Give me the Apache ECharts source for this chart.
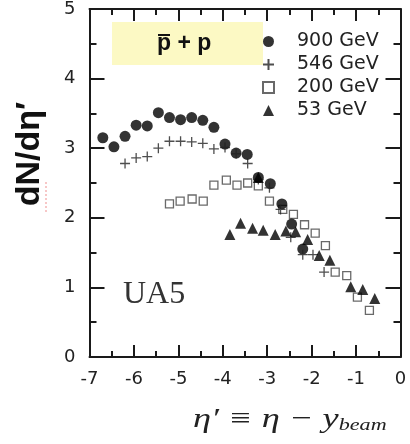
<!DOCTYPE html>
<html><head><meta charset="utf-8">
<script src="https://cdn.jsdelivr.net/npm/echarts@6/dist/echarts.min.js"></script>
<style>html,body{margin:0;padding:0;background:#fff}#c{width:410px;height:444px}</style>
</head><body><div id="c"></div>
<script>
const eta900 = [-6.7,-6.45,-6.2,-5.95,-5.7,-5.45,-5.2,-4.95,-4.7,-4.45,-4.2,-3.95,-3.7,-3.45,-3.2,-2.93,-2.67,-2.45,-2.2];
const dn900  = [3.15,3.02,3.17,3.33,3.32,3.51,3.44,3.41,3.44,3.40,3.30,3.06,2.93,2.91,2.58,2.49,2.20,1.91,1.55];
const eta546 = [-6.2,-5.95,-5.7,-5.45,-5.2,-4.95,-4.7,-4.45,-4.2,-3.95,-3.7,-3.44,-3.2,-2.95,-2.7,-2.47,-2.2,-1.97,-1.72];
const dn546  = [2.78,2.86,2.88,3.00,3.10,3.10,3.09,3.07,2.99,3.01,2.92,2.78,2.55,2.43,2.12,1.72,1.47,1.47,1.22];
const eta200 = [-5.2,-4.96,-4.69,-4.44,-4.2,-3.92,-3.68,-3.44,-3.2,-2.95,-2.65,-2.41,-2.16,-1.92,-1.69,-1.47,-1.21,-0.97,-0.7];
const dn200  = [2.20,2.24,2.27,2.24,2.47,2.54,2.47,2.50,2.46,2.24,2.12,2.05,1.90,1.78,1.60,1.22,1.17,0.86,0.67];
const eta53 = [-3.84,-3.6,-3.33,-3.2,-3.09,-2.82,-2.58,-2.36,-2.09,-1.83,-1.59,-1.12,-0.85,-0.58];
const dn53  = [1.76,1.92,1.85,2.58,1.82,1.76,1.81,1.80,1.69,1.46,1.39,1.01,0.97,0.84];
const legendNames = ['900 GeV','546 GeV','200 GeV','53 GeV'];
const xTicks = [-7,-6,-5,-4,-3,-2,-1,0];
const yTicks = [0,1,2,3,4,5];

const zip = (a,b)=>a.map((v,i)=>[v,b[i]]);
const AX = '#1a1a1a';
function xAx(pos, showLabel){
  return {type:'value', position:pos, min:xTicks[0], max:xTicks[xTicks.length-1], interval:1,
    axisLine:{show:true,onZero:false,lineStyle:{color:AX,width:2}},
    axisTick:{show:true,inside:true,length:12,lineStyle:{color:AX,width:2}},
    minorTick:{show:true,splitNumber:2,length:6,lineStyle:{color:AX,width:2}},
    splitLine:{show:false}, minorSplitLine:{show:false},
    axisLabel:{show:showLabel,fontSize:18,color:'#222',fontFamily:'DejaVu Sans',margin:13,
      formatter:v=>String(v)}};
}
function yAx(pos, showLabel){
  return {type:'value', position:pos, min:yTicks[0], max:yTicks[yTicks.length-1], interval:1,
    axisLine:{show:true,onZero:false,lineStyle:{color:AX,width:2}},
    axisTick:{show:true,inside:true,length:15,lineStyle:{color:AX,width:2}},
    minorTick:{show:true,splitNumber:2,length:7,lineStyle:{color:AX,width:2}},
    splitLine:{show:false}, minorSplitLine:{show:false},
    axisLabel:{show:showLabel,fontSize:18,color:'#222',fontFamily:'DejaVu Sans',margin:14}};
}
const cross = 'path://M0,5L10,5M5,0L5,10';
const chart = echarts.init(document.getElementById('c'), null, {renderer:'canvas'});
chart.setOption({
  animation:false,
  backgroundColor:'#fff',
  grid:{left:89.5,right:9.5,top:7.5,bottom:87},
  xAxis:[xAx('bottom',true), xAx('top',false)],
  yAxis:[yAx('left',true), yAx('right',false)],
  legend:{orient:'vertical',left:257,top:27,itemWidth:11,itemHeight:11,itemGap:4,
    data:legendNames,
    textStyle:{fontSize:19,lineHeight:18,color:'#222',fontFamily:'DejaVu Sans',padding:[0,0,0,18]}},
  series:[
    {name:legendNames[2],type:'scatter',data:zip(eta200,dn200),symbol:'rect',symbolSize:8,z:2,
      itemStyle:{color:'#fff',borderColor:'#444',borderWidth:1.3}},
    {name:legendNames[0],type:'scatter',data:zip(eta900,dn900),symbol:'circle',symbolSize:11,z:3,
      itemStyle:{color:'#000'}},
    {name:legendNames[1],type:'scatter',data:zip(eta546,dn546),symbol:cross,symbolSize:10,z:4,
      itemStyle:{color:'rgba(0,0,0,0)',borderColor:'#222',borderWidth:1.3}},
    {name:legendNames[3],type:'scatter',data:zip(eta53,dn53),symbol:'triangle',symbolSize:11,z:5,
      itemStyle:{color:'#000'}}
  ],
  graphic:[
    {type:'rect',shape:{x:112,y:22,width:151,height:43},style:{fill:'#fcf9c4'},z:0,silent:true},
    {type:'text',left:157,top:32,style:{text:'p + p',font:'bold 23px "Liberation Sans Narrow","Liberation Sans",sans-serif',fill:'#111'},z:10},
    {type:'rect',shape:{x:158,y:34,width:12,height:2},style:{fill:'#111'},z:10},
    {type:'text',left:123,top:279,style:{text:'UA5',font:'32px "Liberation Serif",serif',fill:'#333'}},
    {type:'text',x:30,y:154,rotation:Math.PI/2,style:{text:'dN/dη′',font:'bold 34px "Liberation Sans",sans-serif',fill:'#111',align:'center',verticalAlign:'middle'}},
    {type:'line',shape:{x1:46,y1:182,x2:46,y2:214},style:{stroke:'#f09090',lineWidth:1,lineDash:[2,2]}},
    {type:'text',x:193,y:434,scaleX:1.3,style:{text:'{a|η′ ≡ η − y}{b|beam}',verticalAlign:'bottom',
      rich:{a:{font:'italic 28px "Liberation Serif",serif',fill:'#222',verticalAlign:'bottom'},
            b:{font:'italic 17px "Liberation Serif",serif',fill:'#222',padding:[14,0,0,0],verticalAlign:'bottom'}}}}
  ]
});
</script></body></html>
